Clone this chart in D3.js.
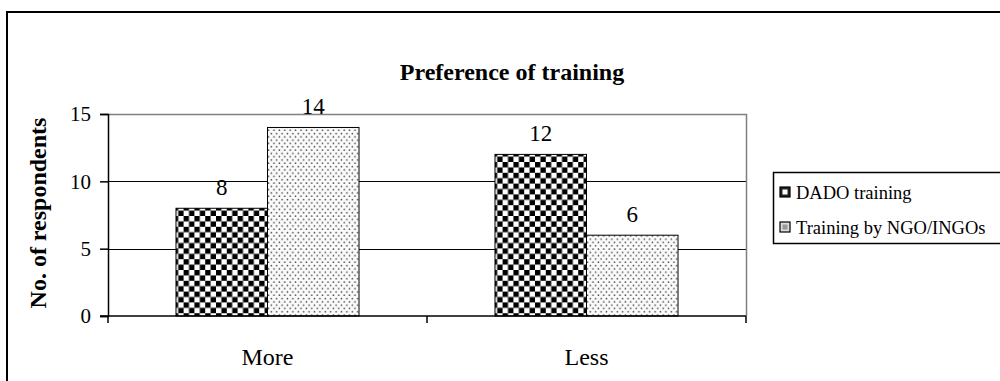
<!DOCTYPE html>
<html>
<head>
<meta charset="utf-8">
<script src="https://cdn.jsdelivr.net/npm/d3@7"></script>
<style>
  html, body { margin: 0; padding: 0; background: #fff; }
  svg { display: block; font-family: "Liberation Serif", "Times New Roman", serif; }
</style>
</head>
<body>
<svg id="chart" width="1000" height="381"></svg>
<script>
// Survey responses: preferred source of training
const categories = ["More", "Less"];
const seriesNames = ["DADO training", "Training by NGO/INGOs"];
const dadoValues = [8, 12];
const ngoValues = [14, 6];
const yTicks = [0, 5, 10, 15];

const svg = d3.select("#chart");
const plot = { left: 108, right: 746, top: 114, bottom: 316 };

// Fill patterns: checkerboard and fine dots
const defs = svg.append("defs");
const chk = defs.append("pattern").attr("id", "checker")
  .attr("patternUnits", "userSpaceOnUse").attr("width", 10.8).attr("height", 10.8);
chk.append("rect").attr("width", 10.8).attr("height", 10.8).attr("fill", "#fff");
chk.append("rect").attr("width", 5.4).attr("height", 5.4).attr("fill", "#000");
chk.append("rect").attr("x", 5.4).attr("y", 5.4).attr("width", 5.4).attr("height", 5.4).attr("fill", "#000");

const dots = defs.append("pattern").attr("id", "dots")
  .attr("patternUnits", "userSpaceOnUse").attr("width", 5.4).attr("height", 6.6);
dots.append("rect").attr("width", 5.4).attr("height", 6.6).attr("fill", "#fbfbfb");
dots.append("circle").attr("cx", 1.3).attr("cy", 1.6).attr("r", 0.8).attr("fill", "#444");
dots.append("circle").attr("cx", 4.0).attr("cy", 4.9).attr("r", 0.8).attr("fill", "#444");

const fills = ["url(#checker)", "url(#dots)"];

// Outer chart frame
svg.append("rect").attr("x", 7).attr("y", 12).attr("width", 1010).attr("height", 400)
  .attr("fill", "none").attr("stroke", "#000").attr("stroke-width", 2);

// Scales
const y = d3.scaleLinear().domain([0, 15]).range([plot.bottom, plot.top]);
const x0 = d3.scaleBand().domain(categories).range([plot.left, plot.right]).padding(0);
const x1 = d3.scaleBand().domain(seriesNames).range([0, x0.bandwidth()])
  .paddingInner(0).paddingOuter(0.743);

// Gridlines
svg.append("g").selectAll("line").data(yTicks.filter(t => t > 0 && t < 15)).join("line")
  .attr("x1", plot.left).attr("x2", plot.right)
  .attr("y1", d => Math.round(y(d)) + 0.5).attr("y2", d => Math.round(y(d)) + 0.5)
  .attr("stroke", "#000").attr("stroke-width", 1);

// Plot area border (top and right)
svg.append("path")
  .attr("d", `M${plot.left},${plot.top + 0.5}H${plot.right + 0.5}V${plot.bottom}`)
  .attr("fill", "none").attr("stroke", "#808080").attr("stroke-width", 1.5);

// Bars
const rows = categories.map((c, i) => ({ cat: c, vals: [dadoValues[i], ngoValues[i]] }));
const groups = svg.append("g").selectAll("g").data(rows).join("g")
  .attr("transform", d => `translate(${x0(d.cat)},0)`);
groups.selectAll("rect").data(d => d.vals.map((v, k) => ({ s: seriesNames[k], v, k }))).join("rect")
  .attr("x", d => x1(d.s)).attr("width", x1.bandwidth())
  .attr("y", d => y(d.v)).attr("height", d => y(0) - y(d.v))
  .attr("fill", d => fills[d.k]).attr("stroke", "#000").attr("stroke-width", 1);

// Value labels
groups.selectAll("text").data(d => d.vals.map((v, k) => ({ s: seriesNames[k], v }))).join("text")
  .attr("x", d => x1(d.s) + x1.bandwidth() / 2).attr("y", d => y(d.v) - 13)
  .attr("text-anchor", "middle").attr("font-size", 23).attr("fill", "#000")
  .text(d => d.v);

// Y axis
const yAxis = svg.append("g").attr("transform", `translate(${plot.left},0)`)
  .call(d3.axisLeft(y).tickValues(yTicks).tickSize(8).tickPadding(9));
yAxis.select(".domain").attr("stroke", "#000").attr("stroke-width", 1.5);
yAxis.selectAll(".tick line").attr("stroke", "#000").attr("stroke-width", 1.5);
yAxis.selectAll(".tick text").attr("font-size", 21).attr("font-family", "Liberation Serif").attr("fill", "#000");

// X axis with ticks between categories
const xAxis = svg.append("g").attr("transform", `translate(0,${plot.bottom})`);
xAxis.append("line").attr("x1", plot.left - 8).attr("x2", plot.right)
  .attr("stroke", "#000").attr("stroke-width", 1.5);
const bounds = [plot.left, ...categories.map(c => x0(c) + x0.bandwidth())];
xAxis.selectAll("line.tk").data(bounds).join("line").attr("class", "tk")
  .attr("x1", d => d).attr("x2", d => d).attr("y1", 0).attr("y2", 7)
  .attr("stroke", "#000").attr("stroke-width", 1.5);
xAxis.selectAll("text").data(categories).join("text")
  .attr("x", d => x0(d) + x0.bandwidth() / 2).attr("y", 49)
  .attr("text-anchor", "middle").attr("font-size", 24).attr("fill", "#000")
  .text(d => d);

// Titles
svg.append("text").attr("x", 512).attr("y", 80).attr("text-anchor", "middle")
  .attr("font-size", 24).attr("font-weight", "bold").text("Preference of training");
svg.append("text").attr("transform", `translate(46,${(plot.top + plot.bottom) / 2 - 2}) rotate(-90)`)
  .attr("text-anchor", "middle").attr("font-size", 24).attr("font-weight", "bold")
  .text("No. of respondents");

// Legend
const lg = svg.append("g").attr("transform", "translate(773,172)");
lg.append("rect").attr("x", 0.5).attr("y", 0.5).attr("width", 260).attr("height", 71)
  .attr("fill", "#fff").attr("stroke", "#000").attr("stroke-width", 1.5);
const items = lg.selectAll("g").data(seriesNames).join("g")
  .attr("transform", (d, i) => `translate(7,${20 + i * 35})`);
items.append("rect").attr("x", 0).attr("y", -5).attr("width", 10).attr("height", 10)
  .attr("fill", (d, i) => i === 0 ? "#222" : "#ddd").attr("stroke", "#000").attr("stroke-width", 1.2);
items.append("rect").attr("x", 2.5).attr("y", -2.5).attr("width", 5).attr("height", 5)
  .attr("fill", (d, i) => i === 0 ? "#fff" : "#999");
items.append("text").attr("x", 16).attr("y", 7).attr("font-size", 18.5).attr("fill", "#000")
  .text(d => d);
</script>
</body>
</html>
